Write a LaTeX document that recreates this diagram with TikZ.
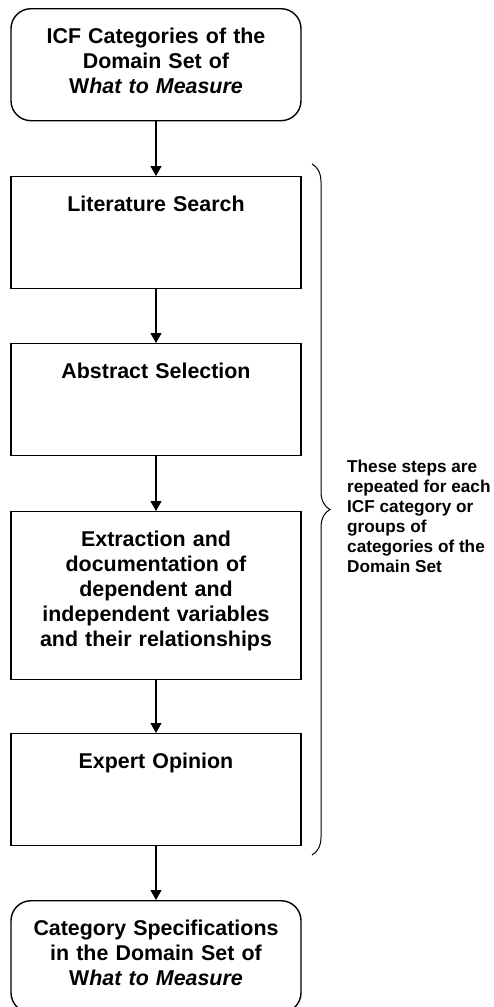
\documentclass[tikz,border=0pt]{standalone}
\usepackage{fontspec}
\setmainfont{Liberation Sans}
\usepackage{tikz}
\usetikzlibrary{arrows.meta,decorations.pathreplacing}

\begin{document}
\begin{tikzpicture}[x=1pt,y=-1pt,
  stepbox/.style={draw,line width=1.4pt,text width=270pt,inner xsep=10pt,inner ysep=0pt,
                  align=center,anchor=north,text height=34.5pt,text depth=#1,
                  font=\fontsize{21.4}{25}\selectfont\bfseries},
  stepbox/.default=77.5pt,
  endbox/.style={stepbox,rounded corners=20pt},
  note/.style={align=left,inner sep=0pt,anchor=west,
               font=\fontsize{17.2}{20}\selectfont\bfseries},
  arrow/.style={-{Triangle[length=10pt,width=11pt]},line width=1.2pt}
]
\useasboundingbox (0,0) rectangle (494,1007);
\node[endbox] (icf) at (156,8)
  {ICF Categories of the\\ Domain Set of\\ W\textit{hat to Measure}};
\node[stepbox] (lit) at (156,176) {Literature Search};
\node[stepbox] (abs) at (156,343) {Abstract Selection};
\node[stepbox=133pt] (extr) at (156,511)
  {Extraction and\\ documentation of\\ dependent and\\ independent variables\\ and their relationships};
\node[stepbox] (expert) at (156,733) {Expert Opinion};
\node[endbox] (spec) at (156,900)
  {Category Specifications\\ in the Domain Set of\\ W\textit{hat to Measure}};
\draw[arrow] (icf) -- (lit);
\draw[arrow] (lit) -- (abs);
\draw[arrow] (abs) -- (extr);
\draw[arrow] (extr) -- (expert);
\draw[arrow] (expert) -- (spec);
% brace round the repeated steps
\coordinate (bracetop) at (312,164);
\coordinate (bracebot) at (312,855);
\draw[line width=1pt,decorate,decoration={brace,amplitude=18pt}] (bracetop) -- (bracebot);
\node[note] (repeat) at (347,516)
  {These steps are\\ repeated for each\\ ICF category or\\ groups of\\ categories of the\\ Domain Set};
\end{tikzpicture}
\end{document}
